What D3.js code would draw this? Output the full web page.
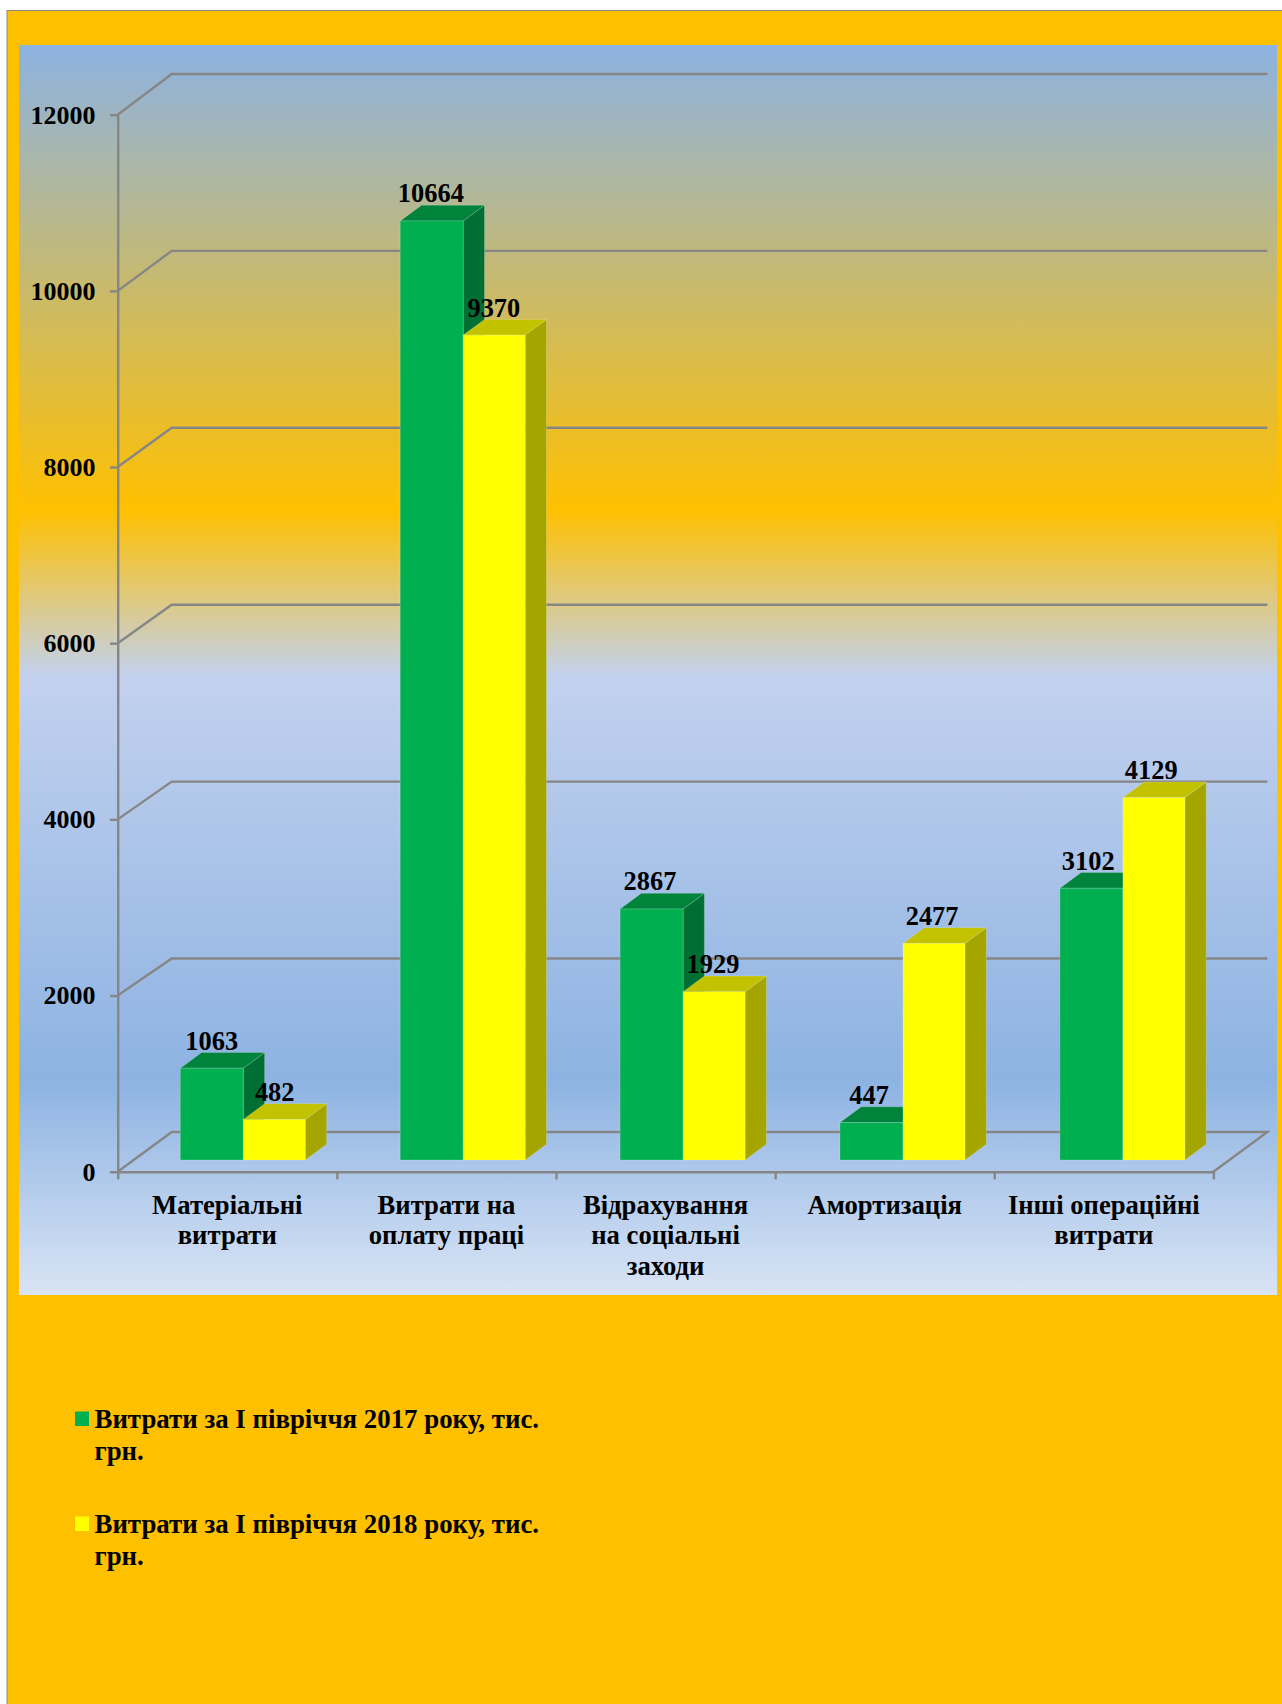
<!DOCTYPE html>
<html>
<head>
<meta charset="utf-8">
<script src="https://d3js.org/d3.v7.min.js"></script>
<style>
  html, body { margin: 0; padding: 0; background: #fff; }
  svg { display: block; }
  text { font-family: "Liberation Serif", serif; font-weight: bold; fill: #000; }
</style>
</head>
<body>
<div id="chart"></div>
<script>
var categories = ["Матеріальні\nвитрати", "Витрати на\nоплату праці", "Відрахування\nна соціальні\nзаходи", "Амортизація", "Інші операційні\nвитрати"];
var values2017 = [1063, 10664, 2867, 447, 3102];
var values2018 = [482, 9370, 1929, 2477, 4129];
var yTicks = [0, 2000, 4000, 6000, 8000, 10000, 12000];
var legendLabels = ["Витрати за І півріччя 2017 року, тис.\nгрн.", "Витрати за І півріччя 2018 року, тис.\nгрн."];
var seriesColors = ["#00b050", "#ffff00"];
var topColors = ["#00843c", "#c2c200"];
var sideColors = ["#006f34", "#a5a500"];

var svgWidth = 1282;
var svgHeight = 1704;
var fontSize = "26.67px";
var lineColor = "#868686";
var lineWidth = 2.4;

var plot = {left: 19, top: 45, right: 1277, bottom: 1295};
var axisX0 = 117.7, axisX1 = 1213.4;
// 3d offsets
var wallDx = 54;
var floorBackY = 1132;
var barDx = 21.3, barDy = -15.7;
var barBase = 1160;

var svg = d3.select("#chart").append("svg")
  .attr("width", svgWidth)
  .attr("height", svgHeight);

var defs = svg.append("defs");
var grad = defs.append("linearGradient")
  .attr("id", "plotBg")
  .attr("x1", 0).attr("y1", 0).attr("x2", 0).attr("y2", 1);
[[0, "#8db3e2"], [0.372, "#ffc000"], [0.505, "#c2d1ee"], [0.828, "#8db3e2"], [1, "#d9e4f5"]]
  .forEach(function(s) {
    grad.append("stop").attr("offset", s[0]).attr("stop-color", s[1]);
  });

// outer frame
svg.append("rect")
  .attr("x", 7).attr("y", 10.5)
  .attr("width", svgWidth + 10).attr("height", svgHeight + 10)
  .attr("fill", "#ffc000")
  .attr("stroke", lineColor)
  .attr("stroke-width", 1);

svg.append("rect")
  .attr("x", plot.left).attr("y", plot.top)
  .attr("width", plot.right - plot.left).attr("height", plot.bottom - plot.top)
  .attr("fill", "url(#plotBg)");

// front axis, back wall and bars each have their own vertical scale
var yScale = d3.scaleLinear().domain([0, 12000]).range([1171.7, 114.7]);
var yWall = d3.scaleLinear().domain([0, 12000]).range([1135.4, 74]);
var yBar = d3.scaleLinear().domain([0, 12000]).range([1162, 103]);

var xLabels = d3.scaleBand().domain(categories).range([axisX0, axisX1]);
var xTicks = d3.scaleLinear().domain([0, categories.length]).range([axisX0, axisX1]);
var xBars = d3.scaleBand().domain(categories).range([axisX0, axisX0 + 219.9 * categories.length]);

// back wall grid lines
svg.append("g").selectAll("path")
  .data(yTicks)
  .enter()
  .append("path")
  .attr("d", function(d) {
    var back = d === 0 ? floorBackY : yWall(d);
    var p = d3.path();
    p.moveTo(axisX0, yScale(d));
    p.lineTo(axisX0 + wallDx, back);
    p.lineTo(axisX1 + wallDx, back);
    if (d === 0) p.lineTo(axisX1, yScale(d));
    return p.toString();
  })
  .attr("fill", "none")
  .attr("stroke", lineColor)
  .attr("stroke-width", lineWidth);

// axes
var leftAxis = d3.axisLeft(yScale).tickValues(yTicks).tickFormat(d3.format("d")).tickSizeInner(7.7).tickSizeOuter(0).tickPadding(14.5);
var yAxisG = svg.append("g").attr("transform", "translate(" + axisX0 + ",0)").call(leftAxis);
yAxisG.selectAll("text").style("font-size", "26px").attr("dy", "0.32em");

var tickAxis = d3.axisBottom(xTicks).ticks(categories.length).tickFormat("").tickSizeInner(7.7).tickSizeOuter(0);
svg.append("g").attr("transform", "translate(0," + yScale(0) + ")").call(tickAxis);

svg.selectAll(".domain, .tick line")
  .attr("stroke", lineColor)
  .attr("stroke-width", lineWidth);

// category labels
var labelAxis = d3.axisBottom(xLabels).tickSize(0).tickFormat("");
var labelG = svg.append("g").attr("transform", "translate(0," + yScale(0) + ")").call(labelAxis);
labelG.select(".domain").remove();
labelG.selectAll(".tick text")
  .attr("y", 0).attr("dy", null)
  .style("font-size", fontSize)
  .each(function(d) {
    d3.select(this).selectAll("tspan")
      .data(d.split("\n"))
      .enter()
      .append("tspan")
      .attr("x", 0)
      .attr("y", function(line, i) { return 42 + i * 30.6; })
      .text(function(line) { return line; });
  });

// bars
var series = [values2017, values2018];
var barWidths = [63, 62];
var barOffset = 62.6;

var barData = [];
categories.forEach(function(cat, i) {
  series.forEach(function(vals, s) {
    barData.push({cat: cat, s: s, value: vals[i]});
  });
});

var bars = svg.append("g").selectAll("g")
  .data(barData)
  .enter()
  .append("g")
  .attr("stroke", "rgba(255,255,255,0.18)")
  .attr("stroke-width", 1);

function barRect(d) {
  var x = xBars(d.cat) + barOffset + (d.s ? barWidths[0] : 0);
  return {x0: x, x1: x + barWidths[d.s], y0: yBar(d.value), y1: barBase};
}

bars.append("path")
  .attr("d", function(d) {
    var r = barRect(d);
    return "M" + r.x1 + "," + r.y0 + "L" + (r.x1 + barDx) + "," + (r.y0 + barDy) +
      "L" + (r.x1 + barDx) + "," + (r.y1 + barDy) + "L" + r.x1 + "," + r.y1 + "Z";
  })
  .attr("fill", function(d) { return sideColors[d.s]; });

bars.append("path")
  .attr("d", function(d) {
    var r = barRect(d);
    return "M" + r.x0 + "," + r.y0 + "L" + (r.x0 + barDx) + "," + (r.y0 + barDy) +
      "L" + (r.x1 + barDx) + "," + (r.y0 + barDy) + "L" + r.x1 + "," + r.y0 + "Z";
  })
  .attr("fill", function(d) { return topColors[d.s]; });

bars.append("rect")
  .attr("x", function(d) { return barRect(d).x0; })
  .attr("y", function(d) { return barRect(d).y0; })
  .attr("width", function(d) { return barWidths[d.s]; })
  .attr("height", function(d) { var r = barRect(d); return r.y1 - r.y0; })
  .attr("fill", function(d) { return seriesColors[d.s]; });

// data labels follow the category band, on top of everything
svg.append("g").selectAll("text")
  .data(barData)
  .enter()
  .append("text")
  .attr("x", function(d) { return xLabels(d.cat) + 94 + d.s * 63; })
  .attr("y", function(d) { return yBar(d.value) - 18.5; })
  .attr("text-anchor", "middle")
  .style("font-size", "26.4px")
  .text(function(d) { return d.value; });

// legend
var legendTop = [1411.5, 1516.5];
var legend = svg.append("g").selectAll("g")
  .data(legendLabels)
  .enter()
  .append("g")
  .attr("transform", function(d, i) { return "translate(75," + legendTop[i] + ")"; });

legend.append("rect")
  .attr("width", 14).attr("height", 14.5)
  .attr("fill", function(d, i) { return seriesColors[i]; });

legend.append("text")
  .style("font-size", "26.85px")
  .selectAll("tspan")
  .data(function(d) { return d.split("\n"); })
  .enter()
  .append("tspan")
  .attr("x", 19.5)
  .attr("y", function(line, i) { return 16.5 + i * 31.5; })
  .text(function(line) { return line; });
</script>
</body>
</html>
